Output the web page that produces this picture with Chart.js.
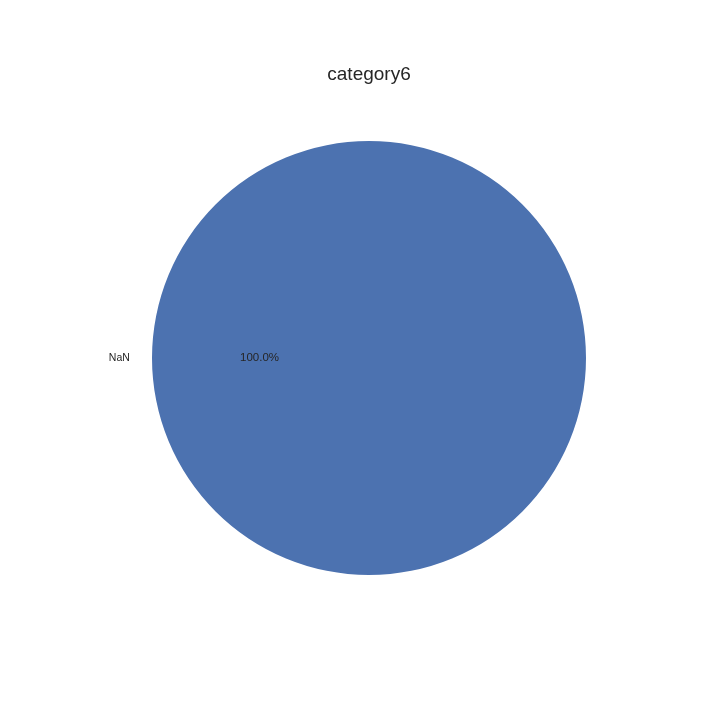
<!DOCTYPE html>
<html>
<head>
<meta charset="utf-8">
<script src="https://cdn.jsdelivr.net/npm/chart.js@4"></script>
<style>
html,body{margin:0;padding:0;background:#fff;}
#wrap{width:720px;height:720px;position:relative;}
</style>
</head>
<body>
<div id="wrap"><canvas id="c" width="720" height="720"></canvas></div>
<script>
const titleText = 'category6';
const categories = ['NaN'];
const values = [1];
const colors = ['#4c72b0'];

const labelPlugin = {
  id: 'pieLabels',
  afterDatasetsDraw(chart) {
    const ctx = chart.ctx;
    const meta = chart.getDatasetMeta(0);
    const total = values.reduce((a, b) => a + b, 0);
    ctx.save();
    ctx.fillStyle = '#262626';
    meta.data.forEach((arc, i) => {
      const p = arc.getProps(['x', 'y', 'startAngle', 'endAngle', 'outerRadius'], true);
      const mid = (p.startAngle + p.endAngle) / 2;
      const cx = Math.cos(mid), cy = Math.sin(mid);
      ctx.font = '10.5px "Liberation Sans", Arial, sans-serif';
      ctx.textBaseline = 'middle';
      ctx.textAlign = cx < -0.01 ? 'right' : (cx > 0.01 ? 'left' : 'center');
      ctx.fillText(categories[i], p.x + cx * p.outerRadius * 1.1 - 0.5, p.y + cy * p.outerRadius * 1.1);
      ctx.font = '11.5px "Liberation Sans", Arial, sans-serif';
      ctx.textAlign = 'center';
      const pct = (values[i] / total * 100).toFixed(1) + '%';
      ctx.fillText(pct, p.x + cx * p.outerRadius * 0.5 - 1, p.y + cy * p.outerRadius * 0.5);
    });
    ctx.font = '19px "Liberation Sans", Arial, sans-serif';
    ctx.textAlign = 'center';
    ctx.textBaseline = 'middle';
    ctx.fillText(titleText, 369, 74.5);
    ctx.restore();
  }
};

new Chart(document.getElementById('c'), {
  type: 'pie',
  data: {
    labels: categories,
    datasets: [{ data: values, backgroundColor: colors, borderWidth: 0 }]
  },
  options: {
    responsive: false,
    animation: false,
    rotation: 90,
    layout: { padding: { top: 141, bottom: 145, left: 152, right: 134 } },
    plugins: { legend: { display: false }, tooltip: { enabled: false }, title: { display: false } }
  },
  plugins: [labelPlugin]
});
</script>
</body>
</html>
